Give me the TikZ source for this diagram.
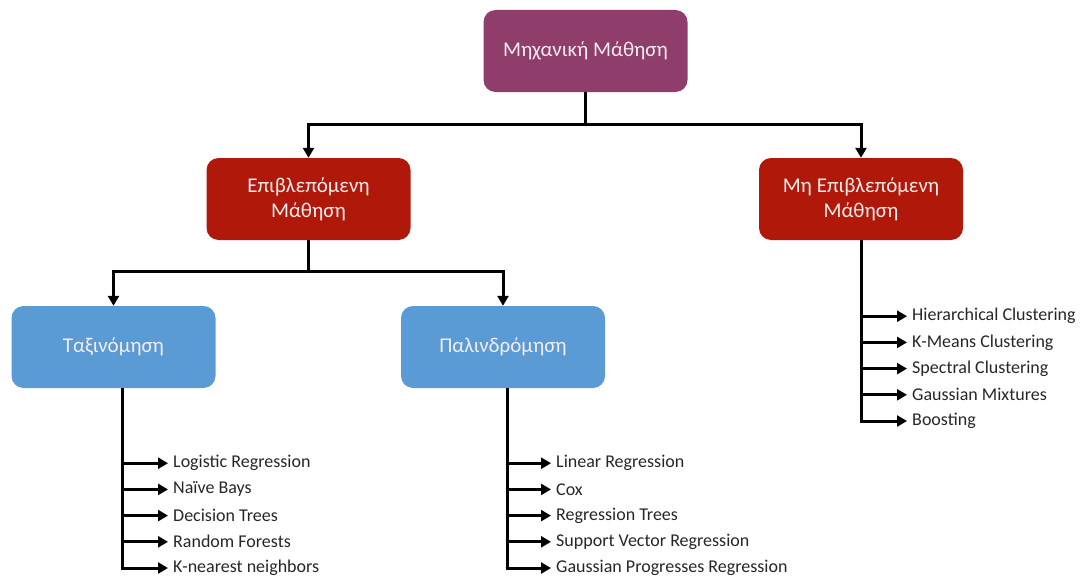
\documentclass[tikz,border=0pt]{standalone}
\usepackage{fontspec}
\setmainfont{Carlito}
\usetikzlibrary{arrows.meta}
\definecolor{rootcol}{HTML}{8F3D6B}
\definecolor{learncol}{HTML}{B0190A}
\definecolor{taskcol}{HTML}{5B9BD5}
\definecolor{boxtext}{HTML}{F4ECEF}
\definecolor{itemtext}{HTML}{262626}
\tikzset{
  box/.style={rounded corners=12pt, minimum width=204pt, minimum height=82pt,
    inner sep=0pt, align=center, text=boxtext, font=\fontsize{21}{25}\selectfont},
  rootbox/.style={box, fill=rootcol},
  learnbox/.style={box, fill=learncol},
  taskbox/.style={box, fill=taskcol},
  link/.style={line width=3pt, draw=black, line join=miter},
  tip/.style={-{Triangle[length=10pt,width=11pt]}},
  item/.style={anchor=west, inner sep=0pt, font=\fontsize{18}{20}\selectfont, text=itemtext}
}
\begin{document}
\begin{tikzpicture}[x=1pt, y=-1pt]
\useasboundingbox (0,0) rectangle (1081,578);

% category boxes
\node[rootbox]  (ml)   at (585.5,51) {Μηχανική Μάθηση};
\node[learnbox] (sup)  at (308.5,199) {Επιβλεπόμενη\\Μάθηση};
\node[learnbox] (uns)  at (861,199) {Μη Επιβλεπόμενη\\Μάθηση};
\node[taskbox]  (cls)  at (113.5,347) {Ταξινόμηση};
\node[taskbox]  (reg)  at (503,347) {Παλινδρόμηση};

% branching connectors
\coordinate (j1) at (585.5,124);
\coordinate (j2) at (308.5,271);
\draw[link] (ml.south) -- (j1);
\draw[link, tip] (j1) -| (sup.north);
\draw[link, tip] (j1) -| (uns.north);
\draw[link] (sup.south) -- (j2);
\draw[link, tip] (j2) -| (cls.north);
\draw[link, tip] (j2) -| (reg.north);

% classification methods
\foreach \t [count=\i] in {Logistic Regression, Naïve Bays, Decision Trees, Random Forests, K-nearest neighbors}{
  \node[item] (c\i) at (173, 437+26.2*\i) {\t};
}
\coordinate (cv) at (122,388);
\draw[link] (cv) -- ([yshift=1.5pt]cv |- c5.west);
\foreach \i in {1,...,5}{
  \draw[link, tip] ([xshift=-1.5pt]cv |- c\i.west) -- ([xshift=-5pt]c\i.west);
}

% regression methods
\foreach \t [count=\i] in {Linear Regression, Cox, Regression Trees, Support Vector Regression, Gaussian Progresses Regression}{
  \node[item] (r\i) at (556, 437+26.2*\i) {\t};
}
\coordinate (rv) at (507,388);
\draw[link] (rv) -- ([yshift=1.5pt]rv |- r5.west);
\foreach \i in {1,...,5}{
  \draw[link, tip] ([xshift=-1.5pt]rv |- r\i.west) -- ([xshift=-5pt]r\i.west);
}

% clustering methods
\foreach \t [count=\i] in {Hierarchical Clustering, K-Means Clustering, Spectral Clustering, Gaussian Mixtures, Boosting}{
  \node[item] (u\i) at (912, 290+26.2*\i) {\t};
}
\draw[link] (uns.south) -- ([yshift=1.5pt]uns.south |- u5.west);
\foreach \i in {1,...,5}{
  \draw[link, tip] ([xshift=-1.5pt]uns.south |- u\i.west) -- ([xshift=-5pt]u\i.west);
}
\end{tikzpicture}
\end{document}
